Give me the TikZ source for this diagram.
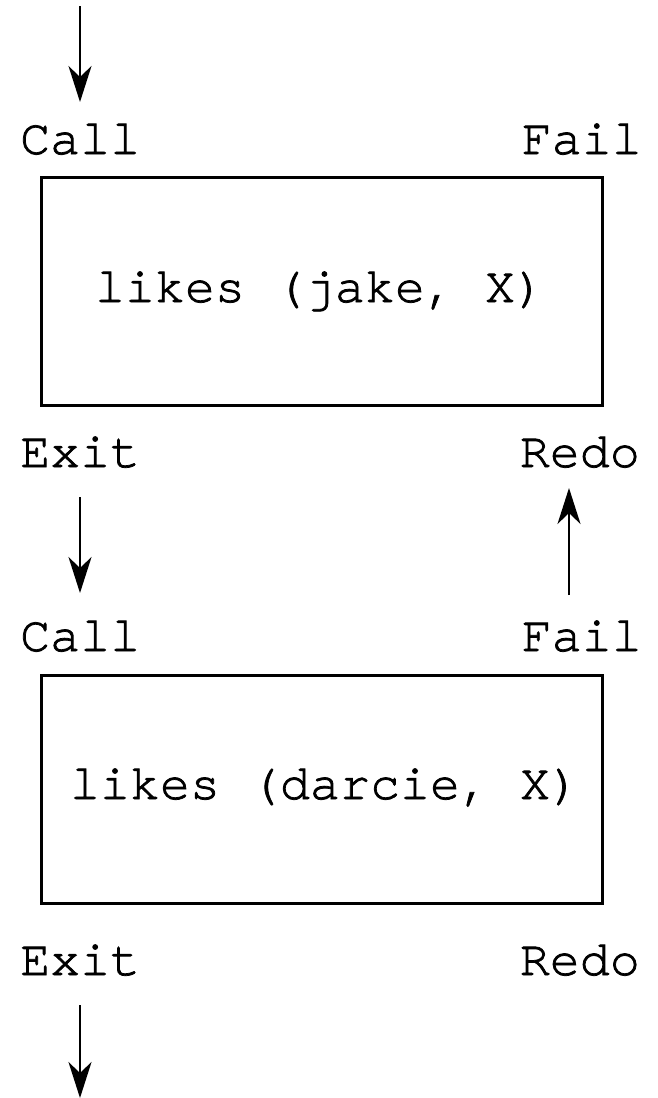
\documentclass[tikz,border=0pt]{standalone}
\usepackage{fontspec}
\setmonofont{texgyrecursor-regular.otf}[FakeBold=1.5]
\usetikzlibrary{arrows.meta}
\begin{document}
\begin{tikzpicture}[x=1pt,y=-1pt,
  lbl/.style={font=\ttfamily\fontsize{50}{50}\selectfont, inner sep=0pt},
  box/.style={draw, line width=3pt, minimum width=561pt, minimum height=228pt, inner sep=0pt},
  arr/.style={line width=2.4pt, -{Stealth[length=36pt,width=23pt,inset=11pt]}}]
\useasboundingbox (0,0) rectangle (657,1098);
% boxes
\node[box] (box1) at (321.5,291.5) {};
\node[box] (box2) at (321.5,789.5) {};
\node[lbl, anchor=base] (goal1) at (320,302) {likes (jake, X)};
\node[lbl, anchor=base] (goal2) at (325,799) {likes (darcie, X)};
% port labels
\node[lbl, anchor=base west] (call1) at (20,154) {Call};
\node[lbl, anchor=base east] (fail1) at (642,154) {Fail};
\node[lbl, anchor=base west] (exit1) at (20,467) {Exit};
\node[lbl, anchor=base east] (redo1) at (640,467) {Redo};
\node[lbl, anchor=base west] (call2) at (20,651) {Call};
\node[lbl, anchor=base east] (fail2) at (642,651) {Fail};
\node[lbl, anchor=base west] (exit2) at (20,975) {Exit};
\node[lbl, anchor=base east] (redo2) at (640,975) {Redo};
% arrow end points
\coordinate (in0) at (80,6);
\coordinate (in1) at (80,102);
\coordinate (d1s) at (80,497);
\coordinate (d1e) at (80,593);
\coordinate (u1s) at (569,595);
\coordinate (u1e) at (569,488);
\coordinate (out0) at (80,1005);
\coordinate (out1) at (80,1098);
\draw[arr] (in0) -- (in1);
\draw[arr] (d1s) -- (d1e);
\draw[arr] (u1s) -- (u1e);
\draw[arr] (out0) -- (out1);
\end{tikzpicture}
\end{document}
